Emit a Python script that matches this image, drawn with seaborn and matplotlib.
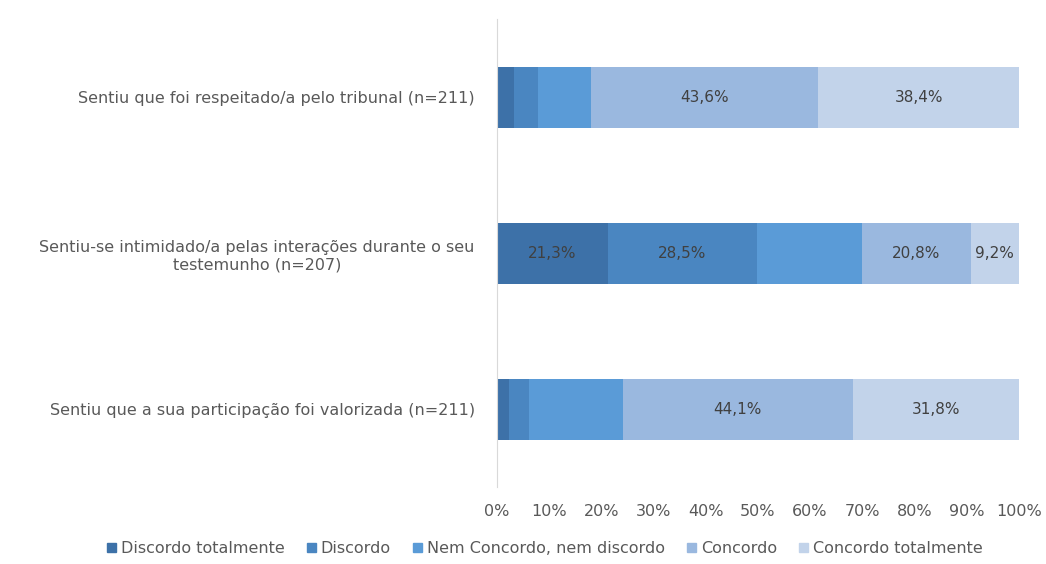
import numpy as np
import pandas as pd
import matplotlib.pyplot as plt
import seaborn as sns

# Data (percent of respondents)
questions = [
    "Sentiu que foi respeitado/a pelo tribunal (n=211)",
    "Sentiu-se intimidado/a pelas interações durante o seu\ntestemunho (n=207)",
    "Sentiu que a sua participação foi valorizada (n=211)",
]
levels = ["Discordo totalmente", "Discordo", "Nem Concordo, nem discordo",
          "Concordo", "Concordo totalmente"]
discordo_tot = [3.3, 21.3, 2.4]
discordo = [4.5, 28.5, 3.8]
nem = [10.2, 20.2, 17.9]
concordo = [43.6, 20.8, 44.1]
concordo_tot = [38.4, 9.2, 31.8]
# data labels shown on the original chart (None = no label)
labels = [
    [None, None, None, "43,6%", "38,4%"],
    ["21,3%", "28,5%", None, "20,8%", "9,2%"],
    [None, None, None, "44,1%", "31,8%"],
]
colors = ["#3d71a8", "#4a86c1", "#5a9bd7", "#9ab8df", "#c2d3ea"]

values = np.array([discordo_tot, discordo, nem, concordo, concordo_tot])
cum = values.cumsum(axis=0)

sns.set_style("white")
plt.rcParams["font.family"] = ["DejaVu Sans"]

fig = plt.figure(figsize=(10.46, 5.64), dpi=100)
ax = fig.add_axes([0.475, 0.136, 0.499, 0.83])

# stacked bars: draw cumulative totals from the largest down
for i in reversed(range(len(levels))):
    df = pd.DataFrame({"question": questions, "value": cum[i]})
    sns.barplot(data=df, x="value", y="question", order=questions,
                color=colors[i], orient="h", width=0.39, ax=ax,
                saturation=1, label=levels[i], linewidth=0, legend=False)

for q in range(len(questions)):
    for i in range(len(levels)):
        if labels[q][i]:
            xc = cum[i][q] - values[i][q] / 2
            ax.text(xc, q, labels[q][i], ha="center", va="center",
                    fontsize=11, color="#404040")

ax.set_xlim(0, 100)
ax.set_ylim(2.5, -0.5)
ax.set_xticks(range(0, 101, 10))
ax.set_xticklabels([f"{t}%" for t in range(0, 101, 10)])
ax.set_xlabel("")
ax.set_ylabel("")
ax.tick_params(axis="x", length=0, labelsize=11.5, colors="#595959", pad=12)
ax.tick_params(axis="y", length=0, labelsize=11.5, colors="#595959", pad=16)
for lbl in ax.get_yticklabels():
    lbl.set_multialignment("center")
for s in ["top", "right", "bottom"]:
    ax.spines[s].set_visible(False)
ax.spines["left"].set_color("#d9d9d9")
if ax.get_legend():
    ax.get_legend().remove()

handles = [plt.Rectangle((0, 0), 1, 1, color=c) for c in colors]
fig.legend(handles, levels,
           loc="center", bbox_to_anchor=(0.521, 0.027), ncol=5, frameon=False,
           fontsize=11.5, labelcolor="#595959", handlelength=0.55,
           handleheight=0.55, handletextpad=0.3, columnspacing=1.4)

fig.savefig("out.png", dpi=100)
